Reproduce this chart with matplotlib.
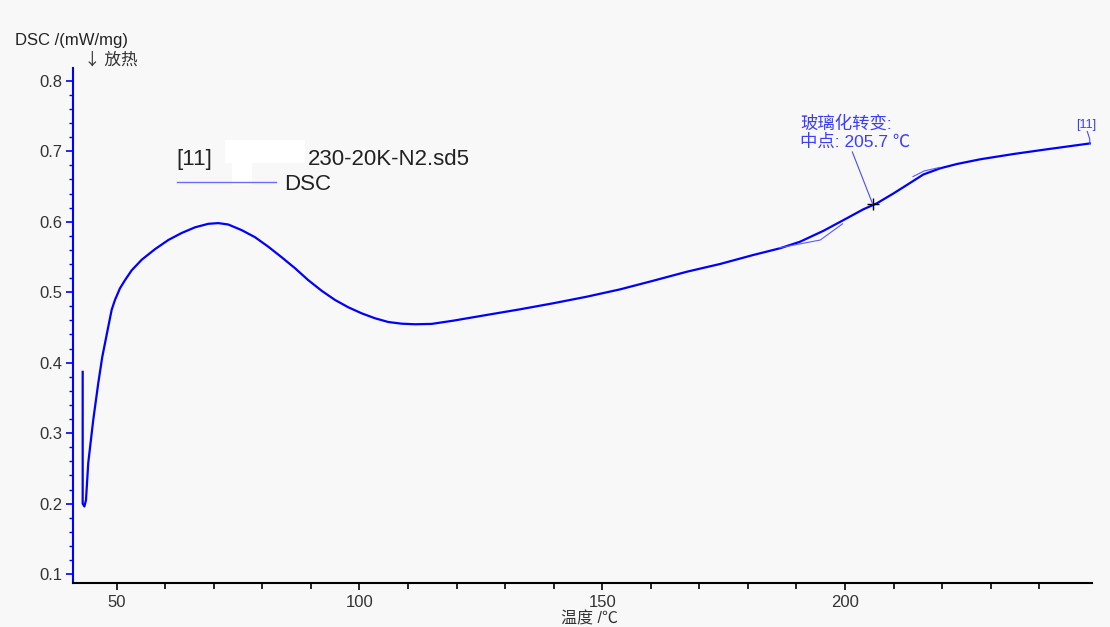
import matplotlib.pyplot as plt
from matplotlib.patches import Rectangle

plt.rcParams['font.family'] = ['Liberation Sans', 'Noto Sans CJK SC', 'DejaVu Sans']

# DSC curve (temperature in degC, DSC in mW/mg)
temp = [43.0, 43.0, 43.35, 43.68, 44.15, 45.18, 46.21, 47.03, 48.27, 48.97, 49.65,
        50.68, 51.71, 53.09, 55.15, 57.89, 60.63, 63.39, 66.13, 68.87, 70.93,
        72.99, 75.75, 78.49, 81.23, 83.99, 86.73, 89.47, 92.22, 94.96, 97.70,
        100.46, 103.20, 105.94, 108.70, 111.44, 114.88, 119.33, 126.21, 133.07,
        139.93, 146.81, 153.67, 160.53, 167.41, 174.27, 181.12, 186.62, 190.74,
        195.54, 200.36, 203.78, 206.54, 209.96, 212.72, 216.14, 219.58, 223.02,
        227.82, 234.68, 241.56, 250.4]
dsc = [0.387, 0.200, 0.196, 0.205, 0.258, 0.319, 0.371, 0.408, 0.451, 0.475, 0.489,
       0.5055, 0.517, 0.531, 0.546, 0.561, 0.574, 0.584, 0.592, 0.597, 0.598,
       0.596, 0.588, 0.578, 0.5645, 0.5495, 0.534, 0.517, 0.502, 0.489, 0.4786,
       0.470, 0.463, 0.4577, 0.4553, 0.4545, 0.455, 0.4596, 0.4677, 0.4757,
       0.4843, 0.4936, 0.504, 0.5163, 0.529, 0.540, 0.5528, 0.5623, 0.5716,
       0.587, 0.6048, 0.6176, 0.626, 0.640, 0.652, 0.667, 0.6757, 0.6818,
       0.6885, 0.696, 0.7027, 0.711]

# thin tangent lines of the glass transition evaluation
tan_low_x = [186.5, 194.9, 199.5]
tan_low_y = [0.563, 0.574, 0.597]
tan_high_x = [214.0, 216.3, 219.5]
tan_high_y = [0.664, 0.672, 0.677]

tg_mid = 205.7
tg_val = 0.625

fig = plt.figure(figsize=(11.1, 6.27), dpi=100, facecolor='#f8f8f8')
ax = fig.add_axes([0.066, 0.0707, 0.9175, 0.8208], facecolor='#f8f8f8')

ax.plot(temp, dsc, color='#0000ff', lw=1.6, solid_joinstyle='round')
ax.plot(tan_low_x, tan_low_y, color='#5a5aff', lw=0.8)
ax.plot(tan_high_x, tan_high_y, color='#5a5aff', lw=0.8)
ax.plot([tg_mid], [tg_val], marker='+', color='black', ms=8, mew=1)

# midpoint annotation
ax.plot([tg_mid, 201.5], [tg_val, 0.699], color='#4a4aff', lw=0.8)
ax.text(190.7, 0.7396, '玻璃化转变:', color='#3c3cff', fontsize=12.5, va='center')
ax.text(190.7, 0.7135, '中点: 205.7 ℃', color='#3c3cff', fontsize=12.5, va='center')

# curve id at end
ax.plot([250.4, 250.4, 249.9], [0.711, 0.717, 0.728], color='#4a4aff', lw=0.8)
ax.text(249.7, 0.737, '[11]', color='#3c3cff', fontsize=9, ha='center', va='center')

ax.set_xlim(41.06, 250.8)
ax.set_ylim(0.0879, 0.818)
ax.set_xticks([50, 100, 150, 200])
ax.set_xticks(range(60, 250, 10), minor=True)
ax.set_yticks([0.1, 0.2, 0.3, 0.4, 0.5, 0.6, 0.7, 0.8])
ax.set_yticks([v / 100 for v in range(10, 81, 2)], minor=True)

for s in ['top', 'right']:
    ax.spines[s].set_visible(False)
ax.spines['left'].set_color('#0000ff')
ax.spines['left'].set_linewidth(1.5)
ax.spines['bottom'].set_color('black')
ax.spines['bottom'].set_linewidth(1.5)

ax.tick_params(axis='x', which='major', length=5, width=1.2, color='black',
               labelsize=12, labelcolor='#333333', pad=4)
ax.tick_params(axis='x', which='minor', length=4, width=1.2, color='black')
ax.tick_params(axis='y', which='major', length=5, width=1.2, color='#0000ff',
               labelsize=12, labelcolor='#333333', pad=3)
ax.tick_params(axis='y', which='minor', length=3, width=1.0, color='#0000ff')

# axis titles
fig.text(0.0135, 0.936, 'DSC /(mW/mg)', fontsize=12, color='#222222', va='center')
fig.text(0.0757, 0.904, '↓ 放热', fontsize=12, color='#333333', va='center',
         family=['Noto Sans CJK SC', 'DejaVu Sans'])
fig.text(0.5315, 0.013, '温度 /℃', fontsize=11.5, color='#333333', ha='center', va='center')

# legend block
fig.text(0.159, 0.745, '[11]', fontsize=16, color='#222222', va='center')
fig.text(0.2778, 0.745, '230-20K-N2.sd5', fontsize=16, color='#222222', va='center')
fig.add_artist(plt.Line2D([176.7 / 1110, 276 / 1110], [0.709, 0.709],
                          transform=fig.transFigure, color='#6a6aff', lw=1))
fig.text(0.256, 0.705, 'DSC', fontsize=16, color='#222222', va='center')
fig.add_artist(Rectangle((225 / 1110, 1 - 163 / 627), 80 / 1110, 23 / 627,
                         transform=fig.transFigure, color='white', lw=0))
fig.add_artist(Rectangle((232 / 1110, 1 - 185 / 627), 20 / 1110, 23 / 627,
                         transform=fig.transFigure, color='white', lw=0))

fig.savefig('out.png', dpi=100, facecolor=fig.get_facecolor())
